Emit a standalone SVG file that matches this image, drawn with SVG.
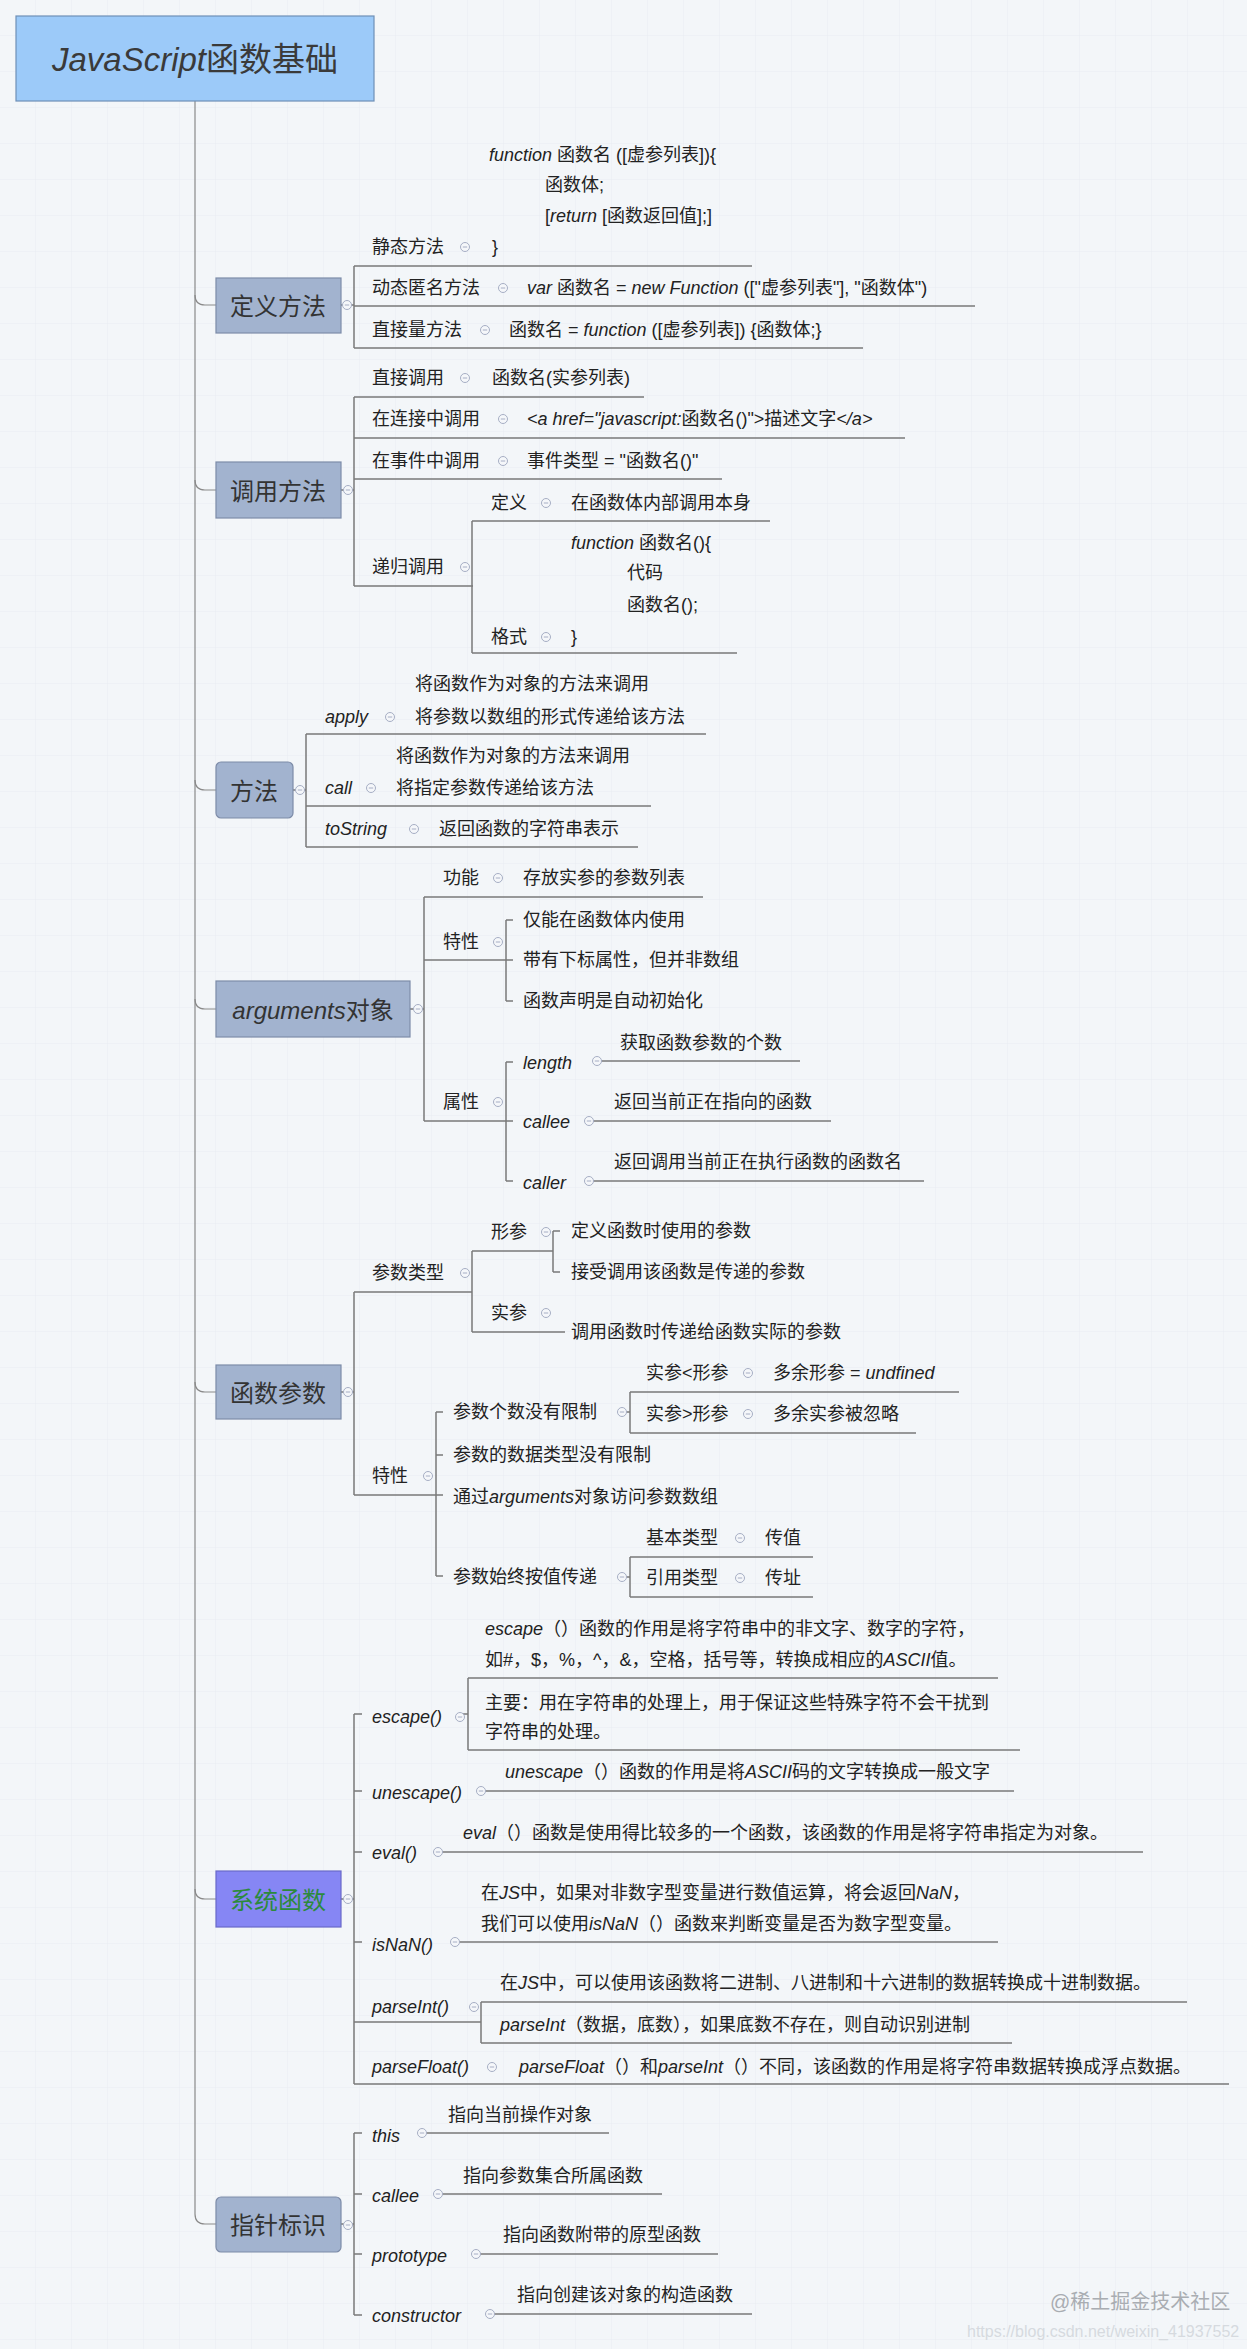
<svg xmlns="http://www.w3.org/2000/svg" xmlns:xlink="http://www.w3.org/1999/xlink" width="1247" height="2349" viewBox="0 0 1247 2349">
<style>
.t{font-family:"Liberation Sans","Noto Sans CJK SC",sans-serif;font-size:18px;fill:#222;dominant-baseline:central}
.i{font-style:italic}
.b{font-size:24px;text-anchor:middle;fill:#333}
.box{fill:#a2b3cf;stroke:#7d8ca8;stroke-width:1.2}
.ln{fill:none;stroke:#7a7a7a;stroke-width:1.5}
.tr{fill:none;stroke:#8a8a8a;stroke-width:1.2}
</style>
<defs>
<pattern id="grid" width="36" height="36" patternUnits="userSpaceOnUse">
<path d="M36 0V36M0 36H36" fill="none" stroke="#e8edf2" stroke-width="1"/>
</pattern>
<g id="cm"><circle r="4.5" fill="#f5f7fa" stroke="#a6aec4" stroke-width="1"/><line x1="-2.2" y1="0" x2="2.2" y2="0" stroke="#a6aec4" stroke-width="1"/></g>
</defs>
<rect width="1247" height="2349" fill="#f3f6f9"/>
<rect width="1247" height="2349" fill="url(#grid)"/>

<g id="connectors">
<path class="tr" d="M195 101V2214Q195 2224 205 2224H216"/>
<path class="tr" d="M195 295Q195 305 205 305H216"/>
<path class="tr" d="M195 480Q195 490 205 490H216"/>
<path class="tr" d="M195 780Q195 790 205 790H216"/>
<path class="tr" d="M195 999Q195 1009 205 1009H216"/>
<path class="tr" d="M195 1382Q195 1392 205 1392H216"/>
<path class="tr" d="M195 1889Q195 1899 205 1899H216"/>
<path class="ln" d="M341 305H354M354 266V348M354 266H752M354 306H975M354 348H863"/>
<path class="ln" d="M341 490H354M354 397V586M354 397H644M354 438H905M354 479H722M354 586H473M472 521V653M472 521H770M472 653H737"/>
<path class="ln" d="M293 790H306M306 734V847M306 734H706M306 806H651M306 847H638"/>
<path class="ln" d="M410 1009H424M424 897V1121M424 897H703M424 960H513M424 1121H513M506 920V1001M506 920H513M506 1001H513M506 1062V1181M506 1062H513M506 1181H513M600 1061H800M592 1121H831M592 1181H924"/>
<path class="ln" d="M341 1392H354M354 1292V1495M354 1292H472M354 1495H443M472 1251V1332M472 1251H553M472 1332H565M553 1231V1272M553 1231H560M553 1272H560M436 1412V1576M436 1412H443M436 1455H443M436 1576H443M622 1412H630M630 1392V1433M630 1392H959M630 1433H916M622 1577H630M630 1557V1597M630 1557H813M630 1597H813"/>
<path class="ln" d="M341 1899H354M354 1714V2084M354 1714H362M354 1791H362M354 1852H362M354 1942H362M354 2022H481M354 2084H1229M460 1714H468M468 1678V1750M468 1678H998M468 1750H1020M485 1791H1014M442 1852H1143M459 1942H998M481 2002V2043M481 2002H1187M481 2043H1012"/>
<path class="ln" d="M341 2224H354M354 2133V2315M354 2133H362M354 2194H362M354 2254H362M354 2315H362M425 2133H609M441 2194H662M479 2254H718M493 2314H752"/>
</g>

<g id="root">
<rect x="16" y="16" width="358" height="85" fill="#9ccaf9" stroke="#6f8fb6" stroke-width="1.2"/>
<text class="t" x="195" y="59" style="font-size:33px;text-anchor:middle;fill:#3a3a3a"><tspan class="i">JavaScript</tspan>函数基础</text>
</g>

<g id="n-define">
<rect class="box" x="216" y="278" width="125" height="55"/>
<text class="t b" x="278" y="306">定义方法</text>
<use xlink:href="#cm" x="347" y="305"/>
<text class="t" x="372" y="247">静态方法</text><use xlink:href="#cm" x="465" y="247"/>
<text class="t" x="489" y="155"><tspan class="i">function</tspan> 函数名 ([虚参列表]){</text>
<text class="t" x="545" y="185">函数体;</text>
<text class="t" x="545" y="216">[<tspan class="i">return</tspan> [函数返回值];]</text>
<text class="t" x="492" y="247">}</text>
<text class="t" x="372" y="288">动态匿名方法</text><use xlink:href="#cm" x="503" y="288"/>
<text class="t" x="527" y="288"><tspan class="i">var</tspan> 函数名 = <tspan class="i">new Function</tspan> (["虚参列表"], "函数体")</text>
<text class="t" x="372" y="330">直接量方法</text><use xlink:href="#cm" x="485" y="330"/>
<text class="t" x="509" y="330">函数名 = <tspan class="i">function</tspan> ([虚参列表]) {函数体;}</text>
</g>

<g id="n-call">
<rect class="box" x="216" y="462" width="125" height="56"/>
<text class="t b" x="278" y="491">调用方法</text>
<use xlink:href="#cm" x="348" y="490"/>
<text class="t" x="372" y="378">直接调用</text><use xlink:href="#cm" x="465" y="378"/>
<text class="t" x="492" y="378">函数名(实参列表)</text>
<text class="t" x="372" y="419">在连接中调用</text><use xlink:href="#cm" x="503" y="419"/>
<text class="t" x="527" y="419"><tspan class="i">&lt;a href="javascript:</tspan>函数名()"&gt;描述文字<tspan class="i">&lt;/a&gt;</tspan></text>
<text class="t" x="372" y="461">在事件中调用</text><use xlink:href="#cm" x="503" y="461"/>
<text class="t" x="527" y="461">事件类型 = "函数名()"</text>
<text class="t" x="372" y="567">递归调用</text><use xlink:href="#cm" x="465" y="567"/>
<text class="t" x="491" y="503">定义</text><use xlink:href="#cm" x="546" y="503"/>
<text class="t" x="571" y="503">在函数体内部调用本身</text>
<text class="t" x="571" y="543"><tspan class="i">function</tspan> 函数名(){</text>
<text class="t" x="627" y="573">代码</text>
<text class="t" x="627" y="605">函数名();</text>
<text class="t" x="491" y="637">格式</text><use xlink:href="#cm" x="546" y="637"/>
<text class="t" x="571" y="637">}</text>
</g>

<g id="n-method">
<rect class="box" x="216" y="762" width="77" height="56" rx="5"/>
<text class="t b" x="254" y="791">方法</text>
<use xlink:href="#cm" x="300" y="790"/>
<text class="t i" x="325" y="717">apply</text><use xlink:href="#cm" x="390" y="717"/>
<text class="t" x="415" y="684">将函数作为对象的方法来调用</text>
<text class="t" x="415" y="717">将参数以数组的形式传递给该方法</text>
<text class="t i" x="325" y="788">call</text><use xlink:href="#cm" x="371" y="788"/>
<text class="t" x="396" y="756">将函数作为对象的方法来调用</text>
<text class="t" x="396" y="788">将指定参数传递给该方法</text>
<text class="t i" x="325" y="829">toString</text><use xlink:href="#cm" x="414" y="829"/>
<text class="t" x="439" y="829">返回函数的字符串表示</text>
</g>

<g id="n-arguments">
<rect class="box" x="216" y="981" width="194" height="56"/>
<text class="t b" x="313" y="1010"><tspan class="i">arguments</tspan>对象</text>
<use xlink:href="#cm" x="418" y="1009"/>
<text class="t" x="443" y="878">功能</text><use xlink:href="#cm" x="498" y="878"/>
<text class="t" x="523" y="878">存放实参的参数列表</text>
<text class="t" x="443" y="942">特性</text><use xlink:href="#cm" x="498" y="942"/>
<text class="t" x="523" y="920">仅能在函数体内使用</text>
<text class="t" x="523" y="960">带有下标属性，但并非数组</text>
<text class="t" x="523" y="1001">函数声明是自动初始化</text>
<text class="t" x="443" y="1102">属性</text><use xlink:href="#cm" x="498" y="1102"/>
<text class="t i" x="523" y="1063">length</text><use xlink:href="#cm" x="597" y="1061"/>
<text class="t" x="620" y="1043">获取函数参数的个数</text>
<text class="t i" x="523" y="1122">callee</text><use xlink:href="#cm" x="589" y="1121"/>
<text class="t" x="614" y="1102">返回当前正在指向的函数</text>
<text class="t i" x="523" y="1183">caller</text><use xlink:href="#cm" x="589" y="1181"/>
<text class="t" x="614" y="1162">返回调用当前正在执行函数的函数名</text>
</g>

<g id="n-params">
<rect class="box" x="216" y="1365" width="125" height="54"/>
<text class="t b" x="278" y="1393">函数参数</text>
<use xlink:href="#cm" x="348" y="1392"/>
<text class="t" x="372" y="1273">参数类型</text><use xlink:href="#cm" x="465" y="1273"/>
<text class="t" x="491" y="1232">形参</text><use xlink:href="#cm" x="546" y="1232"/>
<text class="t" x="571" y="1231">定义函数时使用的参数</text>
<text class="t" x="571" y="1272">接受调用该函数是传递的参数</text>
<text class="t" x="491" y="1313">实参</text><use xlink:href="#cm" x="546" y="1313"/>
<text class="t" x="571" y="1332">调用函数时传递给函数实际的参数</text>
<text class="t" x="372" y="1476">特性</text><use xlink:href="#cm" x="428" y="1476"/>
<text class="t" x="453" y="1412">参数个数没有限制</text><use xlink:href="#cm" x="622" y="1412"/>
<text class="t" x="646" y="1373">实参&lt;形参</text><use xlink:href="#cm" x="748" y="1373"/>
<text class="t" x="773" y="1373">多余形参 = <tspan class="i">undfined</tspan></text>
<text class="t" x="646" y="1414">实参&gt;形参</text><use xlink:href="#cm" x="748" y="1414"/>
<text class="t" x="773" y="1414">多余实参被忽略</text>
<text class="t" x="453" y="1455">参数的数据类型没有限制</text>
<text class="t" x="453" y="1497">通过<tspan class="i">arguments</tspan>对象访问参数数组</text>
<text class="t" x="453" y="1577">参数始终按值传递</text><use xlink:href="#cm" x="622" y="1577"/>
<text class="t" x="646" y="1538">基本类型</text><use xlink:href="#cm" x="740" y="1538"/>
<text class="t" x="765" y="1538">传值</text>
<text class="t" x="646" y="1578">引用类型</text><use xlink:href="#cm" x="740" y="1578"/>
<text class="t" x="765" y="1578">传址</text>
</g>

<g id="n-system">
<rect x="216" y="1871" width="125" height="56" fill="#8686f4" stroke="#6a6ac8" stroke-width="1.2"/>
<text class="t b" x="278" y="1900" style="fill:#2c8a3c">系统函数</text>
<use xlink:href="#cm" x="348" y="1899"/>
<text class="t i" x="372" y="1717">escape()</text><use xlink:href="#cm" x="460" y="1717"/>
<text class="t" x="485" y="1629"><tspan class="i">escape</tspan>（）函数的作用是将字符串中的非文字、数字的字符，</text>
<text class="t" x="485" y="1660">如#，$，%，^，&amp;，空格，括号等，转换成相应的<tspan class="i">ASCII</tspan>值。</text>
<text class="t" x="485" y="1703">主要：用在字符串的处理上，用于保证这些特殊字符不会干扰到</text>
<text class="t" x="485" y="1732">字符串的处理。</text>
<text class="t i" x="372" y="1793">unescape()</text><use xlink:href="#cm" x="481" y="1791"/>
<text class="t" x="505" y="1772"><tspan class="i">unescape</tspan>（）函数的作用是将<tspan class="i">ASCII</tspan>码的文字转换成一般文字</text>
<text class="t i" x="372" y="1853">eval()</text><use xlink:href="#cm" x="438" y="1852"/>
<text class="t" x="463" y="1833"><tspan class="i">eval</tspan>（）函数是使用得比较多的一个函数，该函数的作用是将字符串指定为对象。</text>
<text class="t i" x="372" y="1945">isNaN()</text><use xlink:href="#cm" x="455" y="1942"/>
<text class="t" x="481" y="1893">在<tspan class="i">JS</tspan>中，如果对非数字型变量进行数值运算，将会返回<tspan class="i">NaN</tspan>，</text>
<text class="t" x="481" y="1924">我们可以使用<tspan class="i">isNaN</tspan>（）函数来判断变量是否为数字型变量。</text>
<text class="t i" x="372" y="2007">parseInt()</text><use xlink:href="#cm" x="474" y="2007"/>
<text class="t" x="500" y="1983">在<tspan class="i">JS</tspan>中，可以使用该函数将二进制、八进制和十六进制的数据转换成十进制数据。</text>
<text class="t" x="500" y="2025"><tspan class="i">parseInt</tspan>（数据，底数），如果底数不存在，则自动识别进制</text>
<text class="t i" x="372" y="2067">parseFloat()</text><use xlink:href="#cm" x="492" y="2067"/>
<text class="t" x="519" y="2067"><tspan class="i">parseFloat</tspan>（）和<tspan class="i">parseInt</tspan>（）不同，该函数的作用是将字符串数据转换成浮点数据。</text>
</g>

<g id="n-pointer">
<rect class="box" x="216" y="2197" width="125" height="55" rx="5"/>
<text class="t b" x="278" y="2225">指针标识</text>
<use xlink:href="#cm" x="348" y="2225"/>
<text class="t i" x="372" y="2136">this</text><use xlink:href="#cm" x="422" y="2133"/>
<text class="t" x="448" y="2115">指向当前操作对象</text>
<text class="t i" x="372" y="2196">callee</text><use xlink:href="#cm" x="438" y="2194"/>
<text class="t" x="463" y="2176">指向参数集合所属函数</text>
<text class="t i" x="372" y="2256">prototype</text><use xlink:href="#cm" x="476" y="2254"/>
<text class="t" x="503" y="2235">指向函数附带的原型函数</text>
<text class="t i" x="372" y="2316">constructor</text><use xlink:href="#cm" x="490" y="2314"/>
<text class="t" x="517" y="2295">指向创建该对象的构造函数</text>
</g>

<g id="watermark">
<text class="t" x="1050" y="2302" style="font-size:20px;fill:#a9adb2">@稀土掘金技术社区</text>
<text class="t" x="967" y="2331" style="font-size:16px;fill:#d6dadf">https://blog.csdn.net/weixin_41937552</text>
</g>
</svg>
